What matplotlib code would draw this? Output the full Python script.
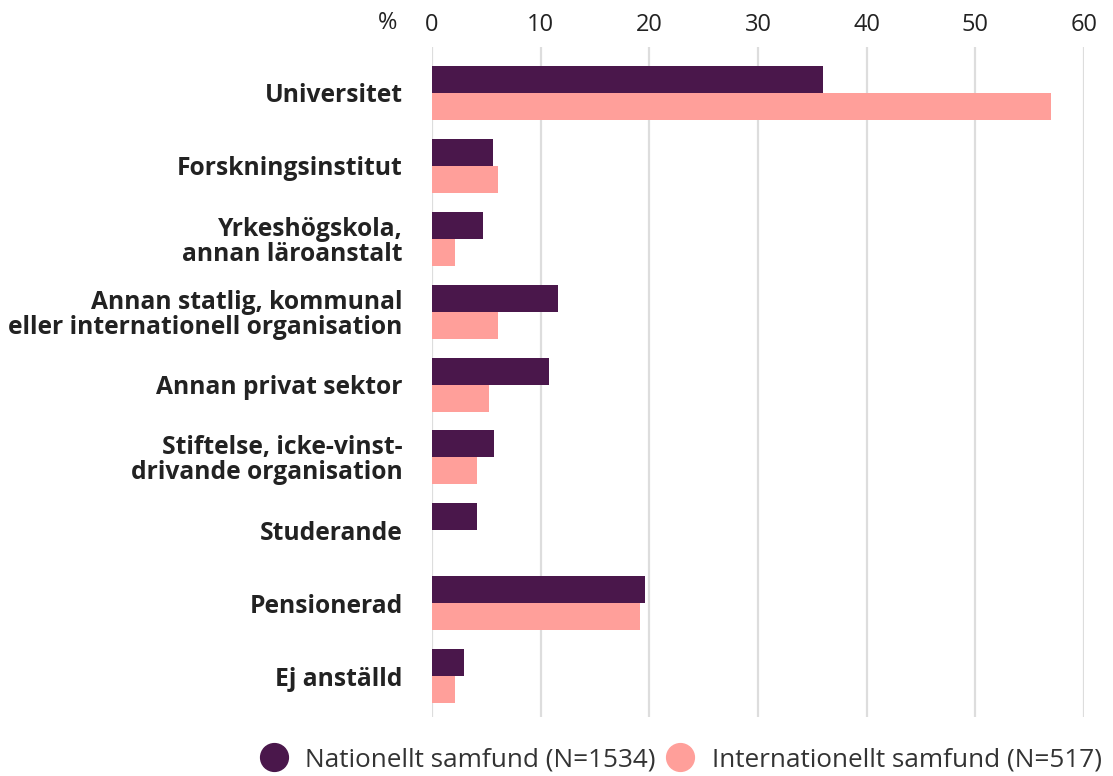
import numpy as np
import matplotlib.pyplot as plt
from matplotlib.lines import Line2D

plt.rcParams['font.family'] = ['Open Sans', 'DejaVu Sans']

# Data
kategorier = ['Universitet', 'Forskningsinstitut', 'Yrkeshögskola,\nannan läroanstalt',
              'Annan statlig, kommunal\neller internationell organisation',
              'Annan privat sektor', 'Stiftelse, icke-vinst-\ndrivande organisation',
              'Studerande', 'Pensionerad', 'Ej anställd']
nationellt = [36.0, 5.6, 4.7, 11.6, 10.8, 5.7, 4.1, 19.6, 2.9]
internationellt = [57.0, 6.1, 2.1, 6.1, 5.2, 4.1, 0.0, 19.1, 2.1]
serier = ['Nationellt samfund (N=1534)', 'Internationellt samfund (N=517)']
farger = ['#4a174b', '#ff9f9a']
xticks = [0, 10, 20, 30, 40, 50, 60]

fig = plt.figure(figsize=(11.13, 7.76), dpi=100)
ax = fig.add_axes([432 / 1113, 1 - 717 / 776, (1084 - 432) / 1113, (717 - 47) / 776])

y = np.arange(len(kategorier))
h = 0.37
ax.barh(y - h / 2, nationellt, height=h, color=farger[0], zorder=3)
ax.barh(y + h / 2, internationellt, height=h, color=farger[1], zorder=3)

ax.set_xlim(0, 60)
ax.set_ylim(len(kategorier) - 1 + 0.56, -0.63)
ax.set_xticks(xticks)
ax.xaxis.tick_top()
ax.tick_params(axis='x', length=0, labelsize=17, pad=7, labelcolor='#222222')
ax.tick_params(axis='y', length=0, pad=21)
ax.set_yticks(y)
ax.set_yticklabels(kategorier, fontsize=17.7, fontweight='bold', color='#222222',
                   linespacing=1.0)
ax.grid(axis='x', color='#dddddd', linewidth=1.6, zorder=0)
for s in ax.spines.values():
    s.set_visible(False)

fig.text(388 / 1113, 1 - 23 / 776, '%', fontsize=17, color='#222222', ha='center', va='center')

handles = [Line2D([], [], marker='o', linestyle='', markersize=20, color=c) for c in farger]
fig.legend(handles, serier, loc='center', bbox_to_anchor=(678 / 1113, 1 - 760 / 776),
           ncol=2, frameon=False, fontsize=18.8, handlelength=1.5, handletextpad=0.45,
           columnspacing=0.2, labelcolor='#333333')

fig.savefig('out.png', dpi=100)
